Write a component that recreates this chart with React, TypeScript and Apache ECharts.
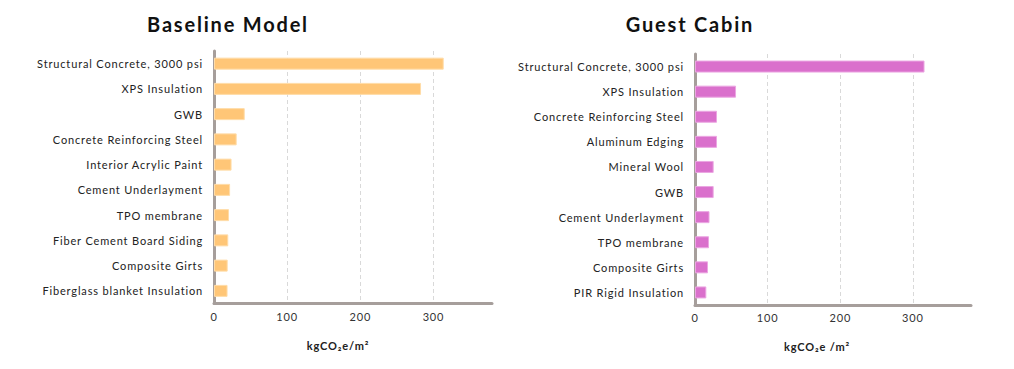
import React, { useEffect, useRef } from "react";
import * as echarts from "echarts";

const baselineCategories = [
  "Structural Concrete, 3000 psi",
  "XPS Insulation",
  "GWB",
  "Concrete Reinforcing Steel",
  "Interior Acrylic Paint",
  "Cement Underlayment",
  "TPO membrane",
  "Fiber Cement Board Siding",
  "Composite Girts",
  "Fiberglass blanket Insulation",
];
const baselineValues = [314, 283, 42, 31, 24, 22, 20.5, 19.5, 18.7, 18.5];

const cabinCategories = [
  "Structural Concrete, 3000 psi",
  "XPS Insulation",
  "Concrete Reinforcing Steel",
  "Aluminum Edging",
  "Mineral Wool",
  "GWB",
  "Cement Underlayment",
  "TPO membrane",
  "Composite Girts",
  "PIR Rigid Insulation",
];
const cabinValues = [316, 56.5, 30.3, 30.3, 25.7, 25.7, 20, 19.3, 17.9, 15.6];

const xTicks = { min: 0, max: 380, interval: 100 };
const titles = ["Baseline Model", "Guest Cabin"];
const axisNames = ["kgCO\u2082e/m\u00b2", "kgCO\u2082e /m\u00b2"];

const FONT = "Lato, 'Noto Sans', sans-serif";
const AXIS_COLOR = "#a69e9b";

export default function App() {
  const ref = useRef<HTMLDivElement>(null);
  useEffect(() => {
    if (!ref.current) return;
    const el = ref.current;
    const chart = echarts.init(el, undefined, { renderer: "svg" });
    const xAxisBase = (gridIndex: number, name: string, pad: number[]) => ({
      type: "value" as const,
      gridIndex,
      min: xTicks.min,
      max: xTicks.max,
      interval: xTicks.interval,
      name,
      nameLocation: "middle" as const,
      nameGap: 36,
      nameTextStyle: {
        fontFamily: FONT,
        fontWeight: "bold" as const,
        fontSize: 11,
        color: "#222",
        padding: pad,
      },
      axisLine: { show: true, lineStyle: { color: AXIS_COLOR, width: 3 } },
      axisTick: { show: false },
      axisLabel: {
        fontFamily: FONT,
        fontSize: 11,
        color: "#333",
        margin: 7,
        showMaxLabel: false,
      },
      splitLine: {
        show: true,
        showMinLine: false,
        showMaxLine: false,
        lineStyle: { color: "#d9d9d9", type: [4, 3], width: 1 },
      },
    });
    const yAxisBase = (gridIndex: number, data: string[]) => ({
      type: "category" as const,
      gridIndex,
      data,
      inverse: true,
      axisLine: { show: true, lineStyle: { color: AXIS_COLOR, width: 3 } },
      axisTick: { show: false },
      axisLabel: {
        fontFamily: FONT,
        fontSize: 11,
        color: "#222",
        margin: 11,
      },
      splitLine: { show: false },
    });
    chart.setOption({
      animation: false,
      title: [
        {
          text: titles[0],
          left: 223,
          top: 9,
          textAlign: "center",
          textStyle: { fontFamily: FONT, fontWeight: "bold", fontSize: 20, color: "#111" },
        },
        {
          text: titles[1],
          left: 685,
          top: 9,
          textAlign: "center",
          textStyle: { fontFamily: FONT, fontWeight: "bold", fontSize: 20, color: "#111" },
        },
      ],
      grid: [
        { left: 214, width: 278, top: 51, height: 252.5 },
        { left: 695, width: 276, top: 54, height: 251 },
      ],
      xAxis: [xAxisBase(0, axisNames[0], [0, 30, 0, 0]), xAxisBase(1, axisNames[1], [0, 32, 0, 0])],
      yAxis: [yAxisBase(0, baselineCategories), yAxisBase(1, cabinCategories)],
      series: [
        {
          type: "bar",
          xAxisIndex: 0,
          yAxisIndex: 0,
          data: baselineValues,
          barWidth: 12,
          itemStyle: { color: "#ffc677", borderColor: "#ffdca8", borderWidth: 1 },
          z: 1,
        },
        {
          type: "bar",
          xAxisIndex: 1,
          yAxisIndex: 1,
          data: cabinValues,
          barWidth: 12,
          itemStyle: { color: "#da70cc", borderColor: "#eba6e2", borderWidth: 1 },
          z: 1,
        },
      ],
    });
    const spaceText = () => {
      el.querySelectorAll("text").forEach((t) => {
        const s = (t.textContent || "").trim();
        const spacing = titles.includes(s) ? "1.8px" : "0.85px";
        (t as SVGTextElement).style.letterSpacing = spacing;
      });
    };
    spaceText();
    chart.on("finished", spaceText);
    const raf = requestAnimationFrame(spaceText);
    return () => {
      cancelAnimationFrame(raf);
      chart.dispose();
    };
  }, []);
  return (
    <div
      ref={ref}
      style={{ position: "fixed", left: 0, top: 0, width: 1014, height: 369, background: "#fff" }}
    />
  );
}
